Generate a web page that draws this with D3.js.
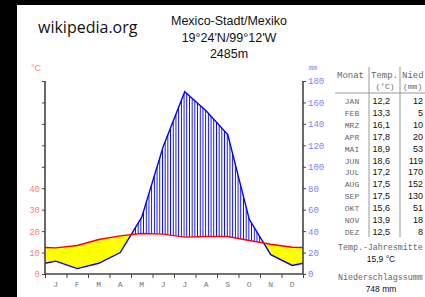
<!DOCTYPE html>
<html><head><meta charset="utf-8">
<script src="https://cdn.jsdelivr.net/npm/d3@7"></script>
<style>
html,body{margin:0;padding:0;background:#000;overflow:hidden;}
svg{display:block;}
</style></head>
<body>
<script>
const months = ["J","F","M","A","M","J","J","A","S","O","N","D"];
const tableMonths = ["JAN","FEB","MRZ","APR","MAI","JUN","JUL","AUG","SEP","OKT","NOV","DEZ"];
const temps = [12.2,13.3,16.1,17.8,18.9,18.6,17.2,17.5,17.5,15.6,13.9,12.5];
const precip = [12,5,10,20,53,119,170,152,130,51,18,8];
const tempLabels = ["12,2","13,3","16,1","17,8","18,9","18,6","17,2","17,5","17,5","15,6","13,9","12,5"];
const tempTicks = [0,10,20,30,40,50,60,70,80,90];
const precipTicks = [0,20,40,60,80,100,120,140,160,180];
const titleLines = ["Mexico-Stadt/Mexiko","19°24'N/99°12'W","2485m"];
const meanTemp = "15,9 °C";
const sumPrecip = "748 mm";

const W=425,H=297;
const svg=d3.select("body").append("svg").attr("width",W).attr("height",H);
svg.append("rect").attr("x",17).attr("y",5).attr("width",W-17).attr("height",H-5).attr("fill","#fff");

const L=45,R=303,B=274,T=81;
const x=d3.scaleLinear().domain([0,12]).range([L,R]);
const yT=d3.scaleLinear().domain([0,90]).range([B,T]);
const yP=d3.scaleLinear().domain([0,180]).range([B,T]);

function pts(arr){
  const edge=(arr[0]+arr[11])/2;
  return [[0,edge]].concat(arr.map((v,i)=>[i+0.5,v])).concat([[12,edge]]);
}
const tp=pts(temps), pp=pts(precip);

const defs=svg.append("defs");
const pat=defs.append("pattern").attr("id","hatch").attr("patternUnits","userSpaceOnUse")
  .attr("width",2.7).attr("height",10);
pat.append("rect").attr("x",0).attr("y",0).attr("width",0.9).attr("height",10).attr("fill","#0000ff");

const underT=d3.area().x(d=>x(d[0])).y0(B).y1(d=>yT(d[1]));
const aboveT=d3.area().x(d=>x(d[0])).y0(T-20).y1(d=>yT(d[1]));
const underP=d3.area().x(d=>x(d[0])).y0(B).y1(d=>yP(d[1]));
const aboveP=d3.area().x(d=>x(d[0])).y0(T-20).y1(d=>yP(d[1]));

defs.append("clipPath").attr("id","cAboveP").append("path").attr("d",aboveP(pp));
defs.append("clipPath").attr("id","cAboveT").append("path").attr("d",aboveT(tp));

svg.append("path").attr("d",underT(tp)).attr("fill","#ffff00").attr("clip-path","url(#cAboveP)");
svg.append("path").attr("d",underP(pp)).attr("fill","url(#hatch)").attr("clip-path","url(#cAboveT)");

const line=s=>d3.line().x(d=>x(d[0])).y(d=>s(d[1]));
svg.append("path").attr("d",line(yP)(pp)).attr("fill","none").attr("stroke","#0000ff").attr("stroke-width",1.4);
svg.append("path").attr("d",line(yT)(tp)).attr("fill","none").attr("stroke","#ff0000").attr("stroke-width",1.4);

const axL=svg.append("g").attr("transform",`translate(${L},0)`)
  .call(d3.axisLeft(yT).tickValues(tempTicks).tickSize(3).tickPadding(2).tickFormat(d=>d<=40?d:""));
const axR=svg.append("g").attr("transform",`translate(${R},0)`)
  .call(d3.axisRight(yP).tickValues(precipTicks).tickSize(3).tickPadding(2));
const axB=svg.append("g").attr("transform",`translate(0,${B})`)
  .call(d3.axisBottom(x).tickValues(d3.range(0,13)).tickSize(4).tickFormat(""));
[axL,axR,axB].forEach(g=>{
  g.select(".domain").attr("stroke","#444").attr("stroke-width",1.6);
  g.selectAll(".tick line").attr("stroke","#444").attr("stroke-width",1);
});
axB.select(".domain").attr("d",`M${L},0H${R}`);
axL.select(".domain").attr("d",`M0,${T}V${B}`);
axR.select(".domain").attr("d",`M0,${T}V${B}`);
axL.selectAll("text").attr("fill","#ff8080").style("font-family","Liberation Mono").style("font-size","9px");
axR.selectAll("text").attr("fill","#8080ff").style("font-family","Liberation Mono").style("font-size","9px");

svg.append("g").selectAll("text").data(months).join("text")
  .attr("x",(d,i)=>x(i+0.5)).attr("y",287).attr("text-anchor","middle")
  .attr("fill","#777").style("font-family","Liberation Mono").style("font-size","8px").text(d=>d);

svg.append("text").attr("x",36).attr("y",71).attr("text-anchor","middle").attr("fill","#ff8080")
  .style("font-family","Liberation Sans").style("font-size","9px").text("°C");
svg.append("text").attr("x",313).attr("y",70).attr("text-anchor","middle").attr("fill","#8080ff")
  .style("font-family","Liberation Mono").style("font-size","7px").text("mm");

svg.append("g").selectAll("text").data(titleLines).join("text")
  .attr("x",229).attr("y",(d,i)=>25+i*16.5).attr("text-anchor","middle").attr("fill","#111")
  .style("font-family","Liberation Sans").style("font-size","12.5px").text(d=>d);
svg.append("text").attr("x",38).attr("y",33).attr("fill","#111")
  .style("font-family","Open Sans").style("font-size","16px").text("wikipedia.org");

const tb=svg.append("g");
const mono="Liberation Mono", sans="Liberation Sans";
tb.append("line").attr("x1",369).attr("x2",369).attr("y1",67).attr("y2",237).attr("stroke","#999");
tb.append("line").attr("x1",400).attr("x2",400).attr("y1",67).attr("y2",237).attr("stroke","#999");
tb.append("line").attr("x1",335).attr("x2",425).attr("y1",93).attr("y2",93).attr("stroke","#999");
tb.append("text").attr("x",337).attr("y",78).attr("fill","#666").style("font-family",mono).style("font-size","9px").text("Monat");
tb.append("text").attr("x",371).attr("y",78).attr("fill","#666").style("font-family",mono).style("font-size","9px").text("Temp.");
tb.append("text").attr("x",402).attr("y",78).attr("fill","#666").style("font-family",mono).style("font-size","9px").text("Nied");
tb.append("text").attr("x",385).attr("y",89).attr("text-anchor","middle").attr("fill","#666").style("font-family",mono).style("font-size","8px").text("(°C)");
tb.append("text").attr("x",403).attr("y",89).attr("fill","#666").style("font-family",mono).style("font-size","8px").text("(mm)");
const rowY=i=>104+i*11.9;
tb.append("g").selectAll("text").data(tableMonths).join("text")
  .attr("x",352).attr("y",(d,i)=>rowY(i)).attr("text-anchor","middle").attr("fill","#666")
  .style("font-family",mono).style("font-size","8px").text(d=>d);
tb.append("g").selectAll("text").data(tempLabels).join("text")
  .attr("x",390).attr("y",(d,i)=>rowY(i)).attr("text-anchor","end").attr("fill","#111")
  .style("font-family",sans).style("font-size","9px").text(d=>d);
tb.append("g").selectAll("text").data(precip).join("text")
  .attr("x",423).attr("y",(d,i)=>rowY(i)).attr("text-anchor","end").attr("fill","#111")
  .style("font-family",sans).style("font-size","9px").text(d=>d);
tb.append("text").attr("x",338).attr("y",250).attr("fill","#666").style("font-family",mono).style("font-size","8.3px").text("Temp.-Jahresmitte");
tb.append("text").attr("x",381).attr("y",262).attr("text-anchor","middle").attr("fill","#111").style("font-family",sans).style("font-size","8.5px").text(meanTemp);
tb.append("text").attr("x",338).attr("y",280).attr("fill","#666").style("font-family",mono).style("font-size","8.3px").text("Niederschlagssumm");
tb.append("text").attr("x",381).attr("y",292).attr("text-anchor","middle").attr("fill","#111").style("font-family",sans).style("font-size","8.5px").text(sumPrecip);
</script>
</body></html>
